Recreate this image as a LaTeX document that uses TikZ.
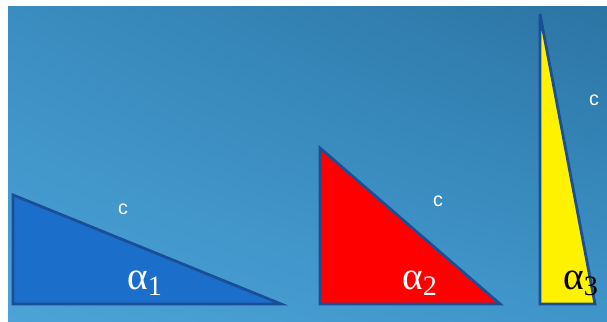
\documentclass[tikz,border=0pt]{standalone}
\usepackage{fontspec}
\setsansfont{Liberation Sans}
\newfontfamily\greekserif{Liberation Serif}
\usepackage{xcolor}
\usetikzlibrary{positioning,calc,shadings}

\definecolor{slidetl}{HTML}{3A8DC0}
\definecolor{slidetr}{HTML}{2B74A4}
\definecolor{slidebl}{HTML}{4BA3D8}
\definecolor{slidebr}{HTML}{3F95CA}
\definecolor{edgeblue}{HTML}{1A4F98}
\definecolor{triblue}{HTML}{1B6FCA}

\newcommand{\angsym}[1]{\fontsize{28}{30}\selectfont α\raisebox{-4pt}{\fontsize{20}{22}\selectfont #1}}

\tikzset{
  tri/.style={draw=edgeblue, line width=2pt, line join=miter},
  hyplabel/.style={text=white, font=\sffamily\fontsize{14}{16}\selectfont, inner sep=0pt},
  anglabel/.style={text=white, font=\greekserif, inner sep=0pt, anchor=base west}
}

\begin{document}
\begin{tikzpicture}[x=0.025cm,y=0.025cm]
  % page and slide background
  \fill[white] (0,0) rectangle (607,322);
  \useasboundingbox (0,0) rectangle (607,322);
  \shade[upper left=slidetl, upper right=slidetr, lower left=slidebl, lower right=slidebr]
    (8,0) rectangle (607,315);
  % corners of the three triangles
  \coordinate (a1) at (13,127); \coordinate (b1) at (13,18);  \coordinate (e1) at (281,18);
  \coordinate (a2) at (320,174); \coordinate (b2) at (320,18); \coordinate (e2) at (500,18);
  \coordinate (a3) at (540,308); \coordinate (b3) at (540,18); \coordinate (e3) at (595,18);
  % triangles
  \filldraw[tri, fill=triblue] (a1) -- (b1) -- (e1) -- cycle;
  \filldraw[tri, fill=red] (a2) -- (b2) -- (e2) -- cycle;
  \filldraw[tri, fill=yellow] (a3) -- (b3) -- (e3) -- cycle;
  % hypotenuse labels
  \node[hyplabel] (c1) at (123,113) {c};
  \node[hyplabel] (c2) at (438,121) {c};
  \node[hyplabel] (c3) at (594,222) {c};
  % angle labels
  \node[anglabel] (al1) at (127,32) {\angsym{1}};
  \node[anglabel] (al2) at (402,32) {\angsym{2}};
  \node[anglabel, text=black] (al3) at (563,32) {\angsym{3}};
\end{tikzpicture}
\end{document}
